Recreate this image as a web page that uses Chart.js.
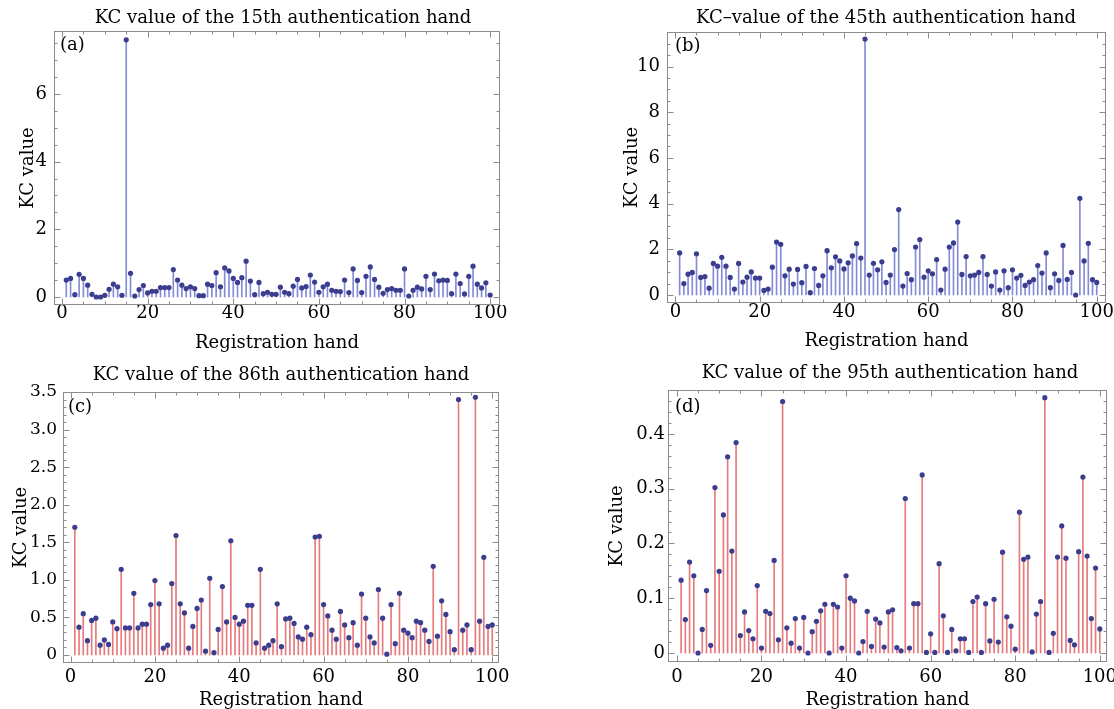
<!DOCTYPE html>
<html>
<head>
<meta charset="utf-8">
<script src="https://cdn.jsdelivr.net/npm/chart.js@4.4.1/dist/chart.umd.min.js"></script>
<style>
  html, body { margin: 0; padding: 0; background: #fff; }
  #wrap { position: relative; width: 1114px; height: 709px; overflow: hidden; }
  canvas { position: absolute; }
</style>
</head>
<body>
<div id="wrap">
  <canvas id="ca" width="557" height="355" style="left:0;top:0"></canvas>
  <canvas id="cb" width="557" height="355" style="left:557px;top:0"></canvas>
  <canvas id="cc" width="557" height="354" style="left:0;top:355px"></canvas>
  <canvas id="cd" width="557" height="354" style="left:557px;top:355px"></canvas>
</div>
<script>
// registration hands 1..100 (x categories)
const hands = Array.from({ length: 100 }, (_, i) => i + 1)

const titles = [
  'KC value of the 15th authentication hand',
  'KC\u2013value of the 45th authentication hand',
  'KC value of the 86th authentication hand',
  'KC value of the 95th authentication hand'
]
const tags = ['(a)', '(b)', '(c)', '(d)']
const xLabel = 'Registration hand'
const yLabel = 'KC value'

// KC values
const kcA = [
  0.5, 0.55, 0.07, 0.67, 0.55, 0.35, 0.08, 0.0, 0.0, 0.05,
  0.23, 0.38, 0.3, 0.05, 7.6, 0.7, 0.03, 0.22, 0.34, 0.12,
  0.17, 0.17, 0.28, 0.28, 0.28, 0.81, 0.5, 0.35, 0.25, 0.3,
  0.25, 0.04, 0.04, 0.38, 0.34, 0.72, 0.3, 0.86, 0.77, 0.55,
  0.43, 0.57, 1.06, 0.47, 0.07, 0.43, 0.1, 0.14, 0.08, 0.08,
  0.29, 0.14, 0.1, 0.32, 0.52, 0.27, 0.31, 0.65, 0.44, 0.14,
  0.3, 0.38, 0.2, 0.17, 0.16, 0.5, 0.13, 0.83, 0.49, 0.13,
  0.61, 0.89, 0.52, 0.29, 0.11, 0.22, 0.25, 0.2, 0.2, 0.83,
  0.03, 0.2, 0.29, 0.24, 0.61, 0.22, 0.68, 0.48, 0.5, 0.49,
  0.1, 0.68, 0.4, 0.09, 0.61, 0.91, 0.38, 0.27, 0.42, 0.06
]
const kcB = [
  1.84, 0.5, 0.91, 0.99, 1.8, 0.77, 0.81, 0.3, 1.38, 1.26,
  1.65, 1.26, 0.77, 0.26, 1.38, 0.57, 0.78, 1.01, 0.74, 0.74,
  0.2, 0.26, 1.22, 2.32, 2.22, 0.84, 1.13, 0.48, 1.12, 0.54,
  1.25, 0.1, 1.16, 0.42, 0.84, 1.94, 1.19, 1.67, 1.49, 1.14,
  1.41, 1.71, 2.25, 1.62, 11.2, 0.87, 1.39, 1.1, 1.45, 0.55,
  0.87, 1.99, 3.74, 0.39, 0.94, 0.67, 2.1, 2.43, 0.78, 1.06,
  0.93, 1.55, 0.22, 1.13, 2.1, 2.28, 3.19, 0.9, 1.68, 0.84,
  0.87, 0.99, 1.68, 0.9, 0.39, 1.01, 0.22, 1.06, 0.32, 1.1,
  0.74, 0.86, 0.42, 0.57, 0.67, 1.29, 0.96, 1.84, 0.32, 0.93,
  0.64, 2.17, 0.68, 0.99, 0.0, 4.23, 1.49, 2.26, 0.67, 0.55
]
const kcC = [
  1.7, 0.37, 0.55, 0.19, 0.46, 0.49, 0.13, 0.2, 0.14, 0.44,
  0.35, 1.14, 0.36, 0.36, 0.82, 0.36, 0.41, 0.41, 0.67, 0.99,
  0.68, 0.09, 0.13, 0.95, 1.59, 0.68, 0.56, 0.09, 0.38, 0.62,
  0.73, 0.05, 1.02, 0.03, 0.34, 0.91, 0.44, 1.52, 0.5, 0.41,
  0.45, 0.66, 0.66, 0.16, 1.14, 0.09, 0.13, 0.19, 0.68, 0.11,
  0.48, 0.49, 0.42, 0.24, 0.21, 0.37, 0.27, 1.57, 1.58, 0.67,
  0.52, 0.33, 0.21, 0.58, 0.4, 0.23, 0.43, 0.13, 0.81, 0.49,
  0.24, 0.16, 0.87, 0.49, 0.01, 0.67, 0.15, 0.82, 0.33, 0.29,
  0.23, 0.45, 0.43, 0.33, 0.18, 1.18, 0.25, 0.72, 0.54, 0.31,
  0.07, 3.4, 0.33, 0.4, 0.07, 3.43, 0.45, 1.3, 0.38, 0.4
]
const kcD = [
  0.133, 0.061, 0.166, 0.141, 0.0, 0.043, 0.114, 0.014, 0.302, 0.149,
  0.252, 0.358, 0.186, 0.384, 0.032, 0.075, 0.041, 0.026, 0.123, 0.009,
  0.076, 0.072, 0.169, 0.024, 0.459, 0.046, 0.018, 0.063, 0.009, 0.065,
  0.0, 0.039, 0.058, 0.077, 0.089, 0.0, 0.089, 0.084, 0.009, 0.141,
  0.1, 0.095, 0.0, 0.021, 0.076, 0.012, 0.062, 0.055, 0.011, 0.075,
  0.079, 0.01, 0.004, 0.282, 0.009, 0.09, 0.09, 0.325, 0.001, 0.035,
  0.001, 0.163, 0.068, 0.001, 0.043, 0.004, 0.026, 0.026, 0.001, 0.094,
  0.102, 0.001, 0.09, 0.022, 0.098, 0.02, 0.184, 0.066, 0.049, 0.007,
  0.257, 0.171, 0.175, 0.002, 0.071, 0.094, 0.466, 0.001, 0.036, 0.175,
  0.232, 0.173, 0.023, 0.015, 0.185, 0.321, 0.177, 0.063, 0.155, 0.044
]

const DOT = '#3b3e8e'
const BLUE = '#858bd6'
const RED = '#e77a7c'

Chart.defaults.font.family = "'DejaVu Serif', serif"
Chart.defaults.color = '#000'

// draws the Mathematica-like frame with inward ticks, the panel title and the tag
const framePlugin = {
  id: 'frame',
  afterDatasetsDraw(chart, args, o) {
    const { ctx, chartArea: a, scales: { x, y } } = chart
    ctx.save()
    ctx.strokeStyle = '#8c8c8c'
    ctx.lineWidth = 1
    const L = Math.round(a.left) + 0.5, R = Math.round(a.right) - 0.5
    const T = Math.round(a.top) + 0.5, B = Math.round(a.bottom) - 0.5
    ctx.strokeRect(L, T, R - L, B - T)
    ctx.beginPath()
    for (let i = 0; i * o.xMinor <= x.max; i++) {
      const v = i * o.xMinor
      const len = v % o.xMajor === 0 ? 6 : 3
      const px = Math.round(x.getPixelForValue(v)) + 0.5
      ctx.moveTo(px, B); ctx.lineTo(px, B - len)
      ctx.moveTo(px, T); ctx.lineTo(px, T + len)
    }
    for (let i = Math.ceil(y.min / o.yMinor); i * o.yMinor <= y.max + 1e-9; i++) {
      const v = i * o.yMinor
      const r = v / o.yMajor
      const len = Math.abs(r - Math.round(r)) < 1e-6 ? 6 : 3
      const py = Math.round(y.getPixelForValue(v)) + 0.5
      ctx.moveTo(L, py); ctx.lineTo(L + len, py)
      ctx.moveTo(R, py); ctx.lineTo(R - len, py)
    }
    ctx.stroke()
    ctx.fillStyle = '#000'
    ctx.textBaseline = 'middle'
    ctx.font = "18px 'DejaVu Serif', serif"
    ctx.textAlign = 'center'
    ctx.fillText(o.title, o.titleX, o.titleY)
    ctx.textAlign = 'left'
    ctx.fillText(o.tag, a.left + o.tagDx, a.top + o.tagDy)
    ctx.restore()
  }
}

const panels = [
  { id: 'ca', values: kcA, stem: BLUE, box: [0, 0, 557, 355], area: [54, 31, 500, 305],
    xr: [-1.87, 102.3], yr: [-0.236, 7.86], yStep: 2, yMinor: 0.5, digits: 0, yFont: 18,
    titleX: 283, titleY: 18, xTitleY: 343, yTitleX: 28, yPad: 7, xLabelY: 313.5, tagDx: 6, tagDy: 14 },
  { id: 'cb', values: kcB, stem: BLUE, box: [557, 0, 557, 355], area: [667, 32, 1106, 303],
    xr: [-2.0, 102.2], yr: [-0.35, 11.51], yStep: 2, yMinor: 0.5, digits: 0, yFont: 18,
    titleX: 886, titleY: 18, xTitleY: 341, yTitleX: 632, yPad: 7, xLabelY: 312, tagDx: 8, tagDy: 14 },
  { id: 'cc', values: kcC, stem: RED, box: [0, 355, 557, 354], area: [63, 392, 499, 663],
    xr: [-1.8, 101.6], yr: [-0.107, 3.5], yStep: 0.5, yMinor: 0.1, digits: 1, yFont: 17,
    titleX: 281, titleY: 375, xTitleY: 700, yTitleX: 21, yPad: 6, xLabelY: 677, tagDx: 5, tagDy: 15 },
  { id: 'cd', values: kcD, stem: RED, box: [557, 355, 557, 354], area: [668, 390, 1107, 662],
    xr: [-2.1, 101.7], yr: [-0.0164, 0.48], yStep: 0.1, yMinor: 0.02, digits: 1, yFont: 18,
    titleX: 890, titleY: 373, xTitleY: 700, yTitleX: 617, yPad: 3, xLabelY: 677, tagDx: 7, tagDy: 17 }
]

panels.forEach((p, k) => {
  const [bx, by, bw, bh] = p.box
  const [l, t, r, b] = p.area
  const points = hands.map((h, i) => ({ x: h, y: p.values[i] }))

  new Chart(document.getElementById(p.id), {
    type: 'bar',
    data: {
      datasets: [
        { type: 'scatter', data: points, pointRadius: 2.6, pointBackgroundColor: DOT,
          pointBorderWidth: 0, order: 0 },
        { type: 'bar', data: points, backgroundColor: p.stem, barThickness: 1, order: 1 }
      ]
    },
    options: {
      responsive: false,
      animation: false,
      layout: { padding: { top: t - by, right: bx + bw - r, left: 0, bottom: 0 } },
      plugins: {
        legend: { display: false },
        tooltip: { enabled: false },
        frame: {
          title: titles[k], tag: tags[k],
          titleX: p.titleX - bx, titleY: p.titleY - by,
          tagDx: p.tagDx, tagDy: p.tagDy,
          xMajor: 20, xMinor: 5, yMajor: p.yStep, yMinor: p.yMinor
        }
      },
      scales: {
        x: {
          type: 'linear',
          min: p.xr[0],
          max: p.xr[1],
          offset: false,
          grid: { display: false, drawTicks: false },
          border: { display: false },
          ticks: {
            stepSize: 20, includeBounds: false, autoSkip: false, maxRotation: 0,
            padding: p.xLabelY - b - 9,
            font: { size: 18, lineHeight: 1 }
          },
          title: {
            display: true, text: xLabel, font: { size: 18 },
            padding: { top: 0, bottom: (by + bh) - p.xTitleY - 10.8 }
          },
          afterFit: s => { s.height = bh - (b - by); s.paddingLeft = 0; s.paddingRight = 0 }
        },
        y: {
          min: p.yr[0],
          max: p.yr[1],
          grid: { display: false, drawTicks: false },
          border: { display: false },
          ticks: {
            stepSize: p.yStep, includeBounds: false, autoSkip: false,
            padding: p.yPad,
            font: { size: p.yFont },
            callback: v => (v === 0 ? '0' : v.toFixed(p.digits))
          },
          title: {
            display: true, text: yLabel, font: { size: 18 },
            padding: { top: p.yTitleX - bx - 10.8, bottom: 0 }
          },
          afterFit: s => { s.width = l - bx; s.paddingTop = 0; s.paddingBottom = 0 }
        }
      }
    },
    plugins: [framePlugin]
  })
})
</script>
</body>
</html>
